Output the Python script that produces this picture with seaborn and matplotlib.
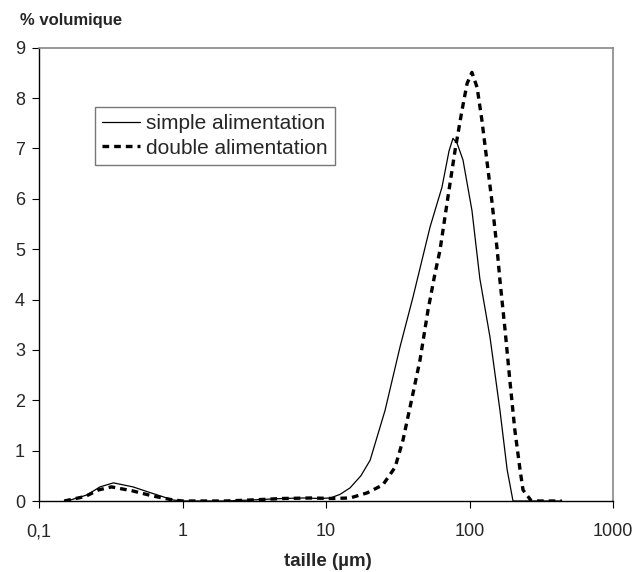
import pandas as pd
import seaborn as sns
import matplotlib.pyplot as plt
from matplotlib.lines import Line2D
from matplotlib.ticker import FixedLocator, NullLocator

# values
size_simple = [0.15, 0.157, 0.216, 0.266, 0.33, 0.452, 0.62, 0.86, 1.0, 2.0, 3.0, 5.0, 7.0,
               9.0, 10.7, 12.5, 14.7, 17.5, 20.3, 25.8, 32.8, 40.4, 53.1, 64.3, 72.0, 76.7,
               82.0, 90.1, 104, 118, 139, 163, 183, 201, 300, 440]
vol_simple = [0.0, 0.0, 0.12, 0.28, 0.36, 0.28, 0.15, 0.02, 0.0, 0.0, 0.02, 0.05, 0.06,
              0.05, 0.06, 0.13, 0.26, 0.5, 0.81, 1.8, 3.06, 4.05, 5.44, 6.23, 6.95, 7.2,
              7.1, 6.77, 5.77, 4.42, 3.25, 1.8, 0.62, 0.0, 0.0, 0.0]

size_double = [0.15, 0.21, 0.26, 0.32, 0.45, 0.62, 0.86, 1.0, 2.0, 3.0, 5.0, 8.0, 11.0,
               14.7, 19.3, 24.9, 30.3, 34.4, 40.4, 45.2, 51.4, 57.5, 62.3, 69.7, 79.3, 88.7,
               96.2, 104, 113, 122, 132, 143, 156, 163, 177, 191, 207, 225, 236, 270, 440]
vol_double = [0.0, 0.09, 0.22, 0.28, 0.2, 0.1, 0.02, 0.0, 0.0, 0.02, 0.05, 0.06, 0.05,
              0.06, 0.16, 0.32, 0.67, 1.21, 2.14, 2.8, 3.79, 4.52, 4.98, 5.91, 6.96, 7.76,
              8.29, 8.51, 8.21, 7.56, 6.77, 5.97, 4.98, 4.38, 3.39, 2.4, 1.41, 0.62, 0.22, 0.0, 0.0]

labels = ['simple alimentation', 'double alimentation']
x_ticks = [0.1, 1, 10, 100, 1000]
x_tick_labels = ['0,1', '1', '10', '100', '1000']
y_ticks = list(range(0, 10))

df = pd.concat([
    pd.DataFrame({'taille': size_simple, 'vol': vol_simple, 'serie': labels[0]}),
    pd.DataFrame({'taille': size_double, 'vol': vol_double, 'serie': labels[1]}),
])

sns.set_style('white')
plt.rcParams['font.family'] = ['Liberation Sans', 'DejaVu Sans']

fig = plt.figure(figsize=(6.37, 5.72), dpi=100)
ax = fig.add_axes([39 / 637, 1 - 501 / 572, (613 - 39) / 637, (501 - 47.7) / 572])

sns.lineplot(data=df, x='taille', y='vol', hue='serie', style='serie',
             palette=['black', 'black'], dashes=[(None, None), (2, 1.5)],
             sort=False, estimator=None, ax=ax, legend=False)
ax.lines[0].set_linewidth(0.9)
ax.lines[1].set_linewidth(2.4)
ax.lines[1].set_dashes((2, 1.5))

ax.set_xscale('log')
ax.set_xlim(0.1, 1000)
ax.set_ylim(0, 9)
ax.xaxis.set_major_locator(FixedLocator(x_ticks))
ax.xaxis.set_minor_locator(NullLocator())
ax.set_xticklabels(x_tick_labels)
ax.set_yticks(y_ticks)
ax.tick_params(axis='both', which='major', bottom=True, left=True, direction='out',
               length=5, width=0.8, color='black', labelsize=13)
ax.tick_params(axis='x', pad=11)
ax.tick_params(axis='y', pad=5)

for side in ['left', 'bottom']:
    ax.spines[side].set_color('black')
    ax.spines[side].set_linewidth(1.0)
for side in ['top', 'right']:
    ax.spines[side].set_color('#888888')
    ax.spines[side].set_linewidth(1.2)

ax.set_xlabel('')
ax.set_ylabel('')
fig.text(328 / 637, 1 - 561 / 572, 'taille (µm)', fontsize=13.5, fontweight='bold',
         ha='center', va='center')
fig.text(20 / 637, 1 - 20 / 572, '% volumique', fontsize=12, fontweight='bold',
         ha='left', va='center')

handles = [Line2D([], [], color='black', lw=0.9),
           Line2D([], [], color='black', lw=2.4, dashes=(2, 1.5))]
leg = ax.legend(handles, labels, loc='upper left', bbox_to_anchor=(0.0976, 0.869),
                fontsize=15, frameon=True, fancybox=False, handlelength=1.8,
                handletextpad=0.3, borderpad=0.35, labelspacing=0.25, borderaxespad=0)
leg.get_frame().set_edgecolor('#555555')
leg.get_frame().set_linewidth(1.0)

fig.savefig('out.png', dpi=100)
